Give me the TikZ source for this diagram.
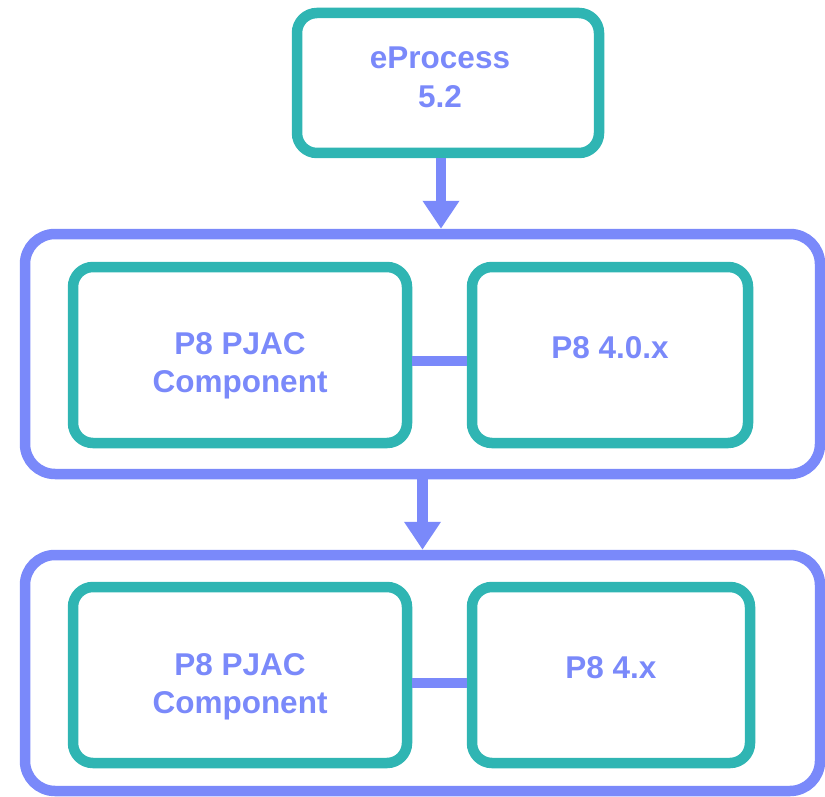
\documentclass[tikz,border=0pt]{standalone}
\usepackage{fontspec}
\setmainfont{Liberation Sans}
\usetikzlibrary{arrows.meta}
\definecolor{boxteal}{RGB}{47,181,179}
\definecolor{linkblue}{RGB}{122,137,250}

\begin{document}
\begin{tikzpicture}[x=1pt, y=-1pt,
box/.style={draw=boxteal, line width=10.5pt, rounded corners=20pt, minimum width=334pt, minimum height=176pt},
grp/.style={draw=linkblue, line width=10.5pt, rounded corners=30pt, minimum width=795pt},
txt/.style={text=linkblue, font=\fontsize{31.5}{38.5}\selectfont\bfseries, align=center},
arrow/.style={draw=linkblue, line width=10.5pt, -{Triangle[width=35pt,length=28pt]}},
link/.style={draw=linkblue, line width=10.5pt}]

\useasboundingbox (0,0) rectangle (825,797);

\node[box, minimum width=302pt, minimum height=140pt, label={[txt,xshift=-8pt,yshift=5.5pt]center:{eProcess\\5.2}}] (eproc) at (448,83) {};

\node[grp, minimum height=240pt] (grp1) at (422.5,354) {};
\node[box, label={[txt,yshift=-11pt]center:{P8 PJAC\\Component}}] (pjac1) at (240,355) {};
\node[box, minimum width=276pt, label={[txt,yshift=7pt]center:{P8 4.0.x}}] (p840) at (610,355) {};

\node[grp, minimum height=236pt] (grp2) at (422.5,673) {};
\node[box, label={[txt,yshift=-12pt]center:{P8 PJAC\\Component}}] (pjac2) at (240,675) {};
\node[box, minimum width=278pt, label={[txt,yshift=7pt]center:{P8 4.x}}] (p84) at (611,675) {};

\coordinate (a1) at ([xshift=-7pt]eproc.south);
\draw[arrow] (a1) -- (a1 |- grp1.north);
\draw[arrow] (grp1.south) -- (grp2.north);

\draw[link] ([yshift=-6pt]pjac1.east) -- ([yshift=-6pt]p840.west);
\draw[link] ([yshift=-8pt]pjac2.east) -- ([yshift=-8pt]p84.west);

\end{tikzpicture}
\end{document}
